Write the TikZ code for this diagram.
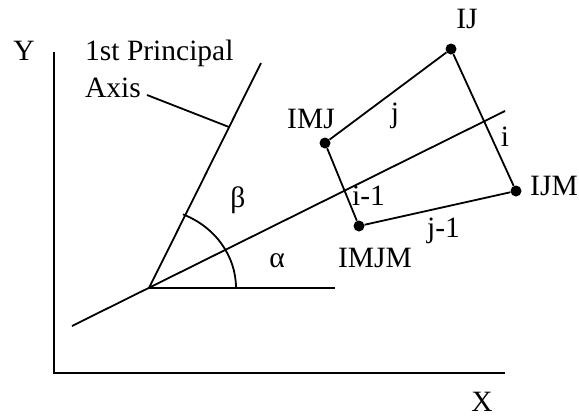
\documentclass[tikz,border=0pt]{standalone}
\usepackage{fontspec}
\setmainfont{Liberation Serif}
\usetikzlibrary{calc}
\tikzset{
  lab/.style={font=\fontsize{29.5}{37}\selectfont, inner sep=0pt},
  corner/.style={circle, fill=black, inner sep=0pt, minimum size=11pt},
  ln/.style={line width=1.8pt}
}
\begin{document}
\begin{tikzpicture}[x=1pt,y=-1pt]
  \useasboundingbox (0,0) rectangle (579,418);
  % X-Y axes
  \coordinate (ytop) at (54,52);
  \coordinate (orig) at (54,373);
  \coordinate (xend) at (505,373);
  \draw[ln] (ytop) -- (orig) -- (xend);
  \node[lab, anchor=base] (ylab) at (24,60) {Y};
  \node[lab, anchor=base] (xlab) at (482,411) {X};
  % principal axes
  \coordinate (o) at (149,288);
  \coordinate (pa) at (261,63);
  \coordinate (sa) at (72,326);
  \coordinate (sb) at (505,111);
  \coordinate (hz) at (335,288);
  \draw[ln] (o) -- (pa);
  \draw[ln] (sa) -- (sb);
  \draw[ln] (o) -- (hz);
  \draw[ln] (236,288) arc[start angle=0, end angle=67, x radius=87pt, y radius=80pt];
  \node[lab, anchor=base] (beta) at (238,207) {β};
  \node[lab, anchor=base] (alpha) at (277,267) {α};
  \node[lab, anchor=base west, align=left] (pname) at (85,97) {1st Principal\\Axis};
  \coordinate (tag) at (147,95);
  \coordinate (tagend) at (229,127);
  \draw[ln] (tag) -- (tagend);
  % cell corners
  \node[corner] (ij) at (451,49) {};
  \node[corner] (imj) at (325,143) {};
  \node[corner] (ijm) at (516,191) {};
  \node[corner] (imjm) at (359,226) {};
  \draw[ln] (imj) -- (ij) -- (ijm) -- (imjm) -- (imj);
  \node[lab, anchor=base] (ijlab) at (467,28) {IJ};
  \node[lab, anchor=base] (imjlab) at (311,128) {IMJ};
  \node[lab, anchor=base west] (ijmlab) at (530,195) {IJM};
  \node[lab, anchor=base] (imjmlab) at (375,267) {IMJM};
  \node[lab, anchor=base] (jlab) at (395,122) {j};
  \node[lab, anchor=base] (ilab) at (505,146) {i};
  \node[lab, anchor=base west] (i1lab) at (352,205) {i-1};
  \node[lab, anchor=base west] (j1lab) at (427,237) {j-1};
\end{tikzpicture}
\end{document}
